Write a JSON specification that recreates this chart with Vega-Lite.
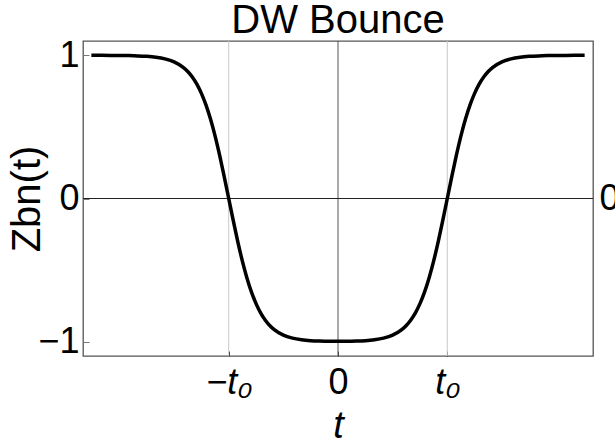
{
  "$schema": "https://vega.github.io/schema/vega-lite/v6.json",
  "width": 510,
  "height": 315,
  "autosize": "none",
  "padding": {"left": 83, "top": 41, "right": 22, "bottom": 89},
  "background": "white",
  "config": {
    "font": "Liberation Sans",
    "view": {"stroke": "#555555", "strokeWidth": 1.3},
    "axis": {
      "domain": false,
      "grid": false,
      "labelColor": "black",
      "titleColor": "black",
      "labelFontSize": 36,
      "titleFontSize": 38,
      "titleFontWeight": "normal",
      "labelFont": "Liberation Sans",
      "titleFont": "Liberation Sans"
    }
  },
  "title": {
    "text": "DW Bounce",
    "fontSize": 40,
    "fontWeight": "normal",
    "color": "black",
    "font": "Liberation Sans",
    "frame": "group",
    "offset": -4
  },
  "resolve": {"axis": {"x": "independent", "y": "independent"}},
  "layer": [
    {
      "data": {"values": [{"t": -3}, {"t": 3}]},
      "mark": {"type": "rule", "color": "#c8c8c8", "strokeWidth": 1},
      "encoding": {
        "x": {"field": "t", "type": "quantitative", "scale": {"domain": [-7, 7], "nice": false, "zero": false}, "axis": null}
      }
    },
    {
      "data": {"values": [{"t": 0}]},
      "mark": {"type": "rule", "color": "#555555", "strokeWidth": 1},
      "encoding": {
        "x": {"field": "t", "type": "quantitative", "axis": null}
      }
    },
    {
      "data": {"values": [{"z": 0}]},
      "mark": {"type": "rule", "color": "#222222", "strokeWidth": 1},
      "encoding": {
        "y": {
          "field": "z",
          "type": "quantitative",
          "axis": {"orient": "right", "values": [0], "ticks": false, "labelPadding": 6, "title": null, "labelBaseline": "middle"}
        }
      }
    },
    {
      "data": {
        "values": [
          {"t": -6.77, "z": 0.9998}, {"t": -6.5, "z": 0.9997}, {"t": -6.25, "z": 0.9994},
          {"t": -6.0, "z": 0.9989}, {"t": -5.75, "z": 0.9979}, {"t": -5.5, "z": 0.9961},
          {"t": -5.25, "z": 0.9928}, {"t": -5.0, "z": 0.9866}, {"t": -4.75, "z": 0.9751},
          {"t": -4.5, "z": 0.9541}, {"t": -4.25, "z": 0.9158}, {"t": -4.125, "z": 0.8867},
          {"t": -4.0, "z": 0.8483}, {"t": -3.875, "z": 0.7983}, {"t": -3.75, "z": 0.7341},
          {"t": -3.625, "z": 0.6534}, {"t": -3.5, "z": 0.5546}, {"t": -3.375, "z": 0.4372},
          {"t": -3.25, "z": 0.3027}, {"t": -3.125, "z": 0.155}, {"t": -3.0, "z": 0.0},
          {"t": -2.875, "z": -0.155}, {"t": -2.75, "z": -0.3027}, {"t": -2.625, "z": -0.4372},
          {"t": -2.5, "z": -0.5546}, {"t": -2.375, "z": -0.6534}, {"t": -2.25, "z": -0.7341},
          {"t": -2.125, "z": -0.7983}, {"t": -2.0, "z": -0.8483}, {"t": -1.875, "z": -0.8867},
          {"t": -1.75, "z": -0.9158}, {"t": -1.5, "z": -0.9541}, {"t": -1.25, "z": -0.9751},
          {"t": -1.0, "z": -0.9865}, {"t": -0.75, "z": -0.9927}, {"t": -0.5, "z": -0.9958},
          {"t": -0.25, "z": -0.9974}, {"t": 0.0, "z": -0.9978}, {"t": 0.25, "z": -0.9974},
          {"t": 0.5, "z": -0.9958}, {"t": 0.75, "z": -0.9927}, {"t": 1.0, "z": -0.9865},
          {"t": 1.25, "z": -0.9751}, {"t": 1.5, "z": -0.9541}, {"t": 1.75, "z": -0.9158},
          {"t": 1.875, "z": -0.8867}, {"t": 2.0, "z": -0.8483}, {"t": 2.125, "z": -0.7983},
          {"t": 2.25, "z": -0.7341}, {"t": 2.375, "z": -0.6534}, {"t": 2.5, "z": -0.5546},
          {"t": 2.625, "z": -0.4372}, {"t": 2.75, "z": -0.3027}, {"t": 2.875, "z": -0.155},
          {"t": 3.0, "z": 0.0}, {"t": 3.125, "z": 0.155}, {"t": 3.25, "z": 0.3027},
          {"t": 3.375, "z": 0.4372}, {"t": 3.5, "z": 0.5546}, {"t": 3.625, "z": 0.6534},
          {"t": 3.75, "z": 0.7341}, {"t": 3.875, "z": 0.7983}, {"t": 4.0, "z": 0.8483},
          {"t": 4.125, "z": 0.8867}, {"t": 4.25, "z": 0.9158}, {"t": 4.5, "z": 0.9541},
          {"t": 4.75, "z": 0.9751}, {"t": 5.0, "z": 0.9866}, {"t": 5.25, "z": 0.9928},
          {"t": 5.5, "z": 0.9961}, {"t": 5.75, "z": 0.9979}, {"t": 6.0, "z": 0.9989},
          {"t": 6.25, "z": 0.9994}, {"t": 6.5, "z": 0.9997}, {"t": 6.77, "z": 0.9998}
        ]
      },
      "mark": {"type": "line", "color": "black", "strokeWidth": 3.5, "interpolate": "monotone", "clip": true},
      "encoding": {
        "x": {
          "field": "t",
          "type": "quantitative",
          "axis": {
            "orient": "bottom",
            "values": [-3, 0, 3],
            "labelExpr": "datum.value == 0 ? '0' : (datum.value < 0 ? '−t₀' : 't₀')",
            "labelFontStyle": {"condition": {"test": "datum.value != 0", "value": "italic"}, "value": "normal"},
            "tickSize": -5,
            "tickColor": "#333333",
            "labelPadding": 14,
            "title": "t",
            "titleFontStyle": "italic",
            "titlePadding": 7
          }
        },
        "y": {
          "field": "z",
          "type": "quantitative",
          "scale": {"domain": [-1.1, 1.1], "nice": false, "zero": false},
          "axis": {
            "orient": "left",
            "values": [-1, 0, 1],
            "tickSize": -6,
            "tickColor": "#777777",
            "labelPadding": 10,
            "title": "Zbn(t)",
            "titleFontSize": 40,
            "titlePadding": -10
          }
        }
      }
    }
  ]
}
